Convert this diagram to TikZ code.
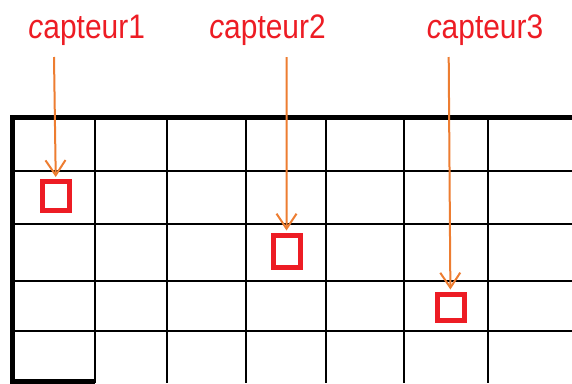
\documentclass[tikz,border=0pt]{standalone}
\usepackage{fontspec}
\newfontfamily\capfont[FakeStretch=0.88]{Liberation Sans}
\usetikzlibrary{arrows.meta}
\definecolor{rouge}{RGB}{237,28,36}
\definecolor{orangef}{RGB}{237,125,49}
\begin{document}
\begin{tikzpicture}[x=1pt,y=-1pt]
		
		% Styles
		\tikzset{
			capteur/.style={
				draw=rouge,
				line width=5pt,
				minimum width=27pt,
				minimum height=29pt,
				inner sep=0pt
			},
			etiquette/.style={
				text=rouge,
				font=\capfont\fontsize{34}{40}\selectfont,
				anchor=base,
				inner sep=0pt
			},
			fleche/.style={
				draw=orangef,
				line width=2pt,
				-{Straight Barb[length=15pt,width=20pt]},
				shorten >=2pt
			},
			grille/.style={line width=2pt},
			bord/.style={line width=5pt}
		}
		
		\useasboundingbox (0,0) rectangle (572,383);
		
		% Grille
		\foreach \x in {95,167,245.5,325.5,404,488}
			\draw[grille] (\x,117) -- (\x,383);
		\foreach \y in {170.5,224,280.5,330.5}
			\draw[grille] (12,\y) -- (572,\y);
		\draw[bord] (572,117.5) -- (12.5,117.5) -- (12.5,381) -- (95,381);
		
		% Capteurs
		\node[capteur] (s1) at (56,196) {};
		\node[capteur, minimum height=32pt] (s2) at (286.5,251) {};
		\node[capteur, minimum height=26pt] (s3) at (450.5,307) {};
		
		% Etiquettes
		\node[etiquette] (e1) at (86.7,38.3) {\textit{c}apteur1};
		\node[etiquette] (e2) at (267.5,38.3) {\textit{c}apteur2};
		\node[etiquette] (e3) at (485,38.3) {\textit{c}apteur3};
		
		% Flèches
		\coordinate (d1) at (54,57);
		\coordinate (d2) at (286.7,57);
		\coordinate (d3) at (448.7,57);
		\draw[fleche] (d1) -- (s1);
		\draw[fleche] (d2) -- (s2);
		\draw[fleche] (d3) -- (s3);
		
	\end{tikzpicture}
\end{document}
